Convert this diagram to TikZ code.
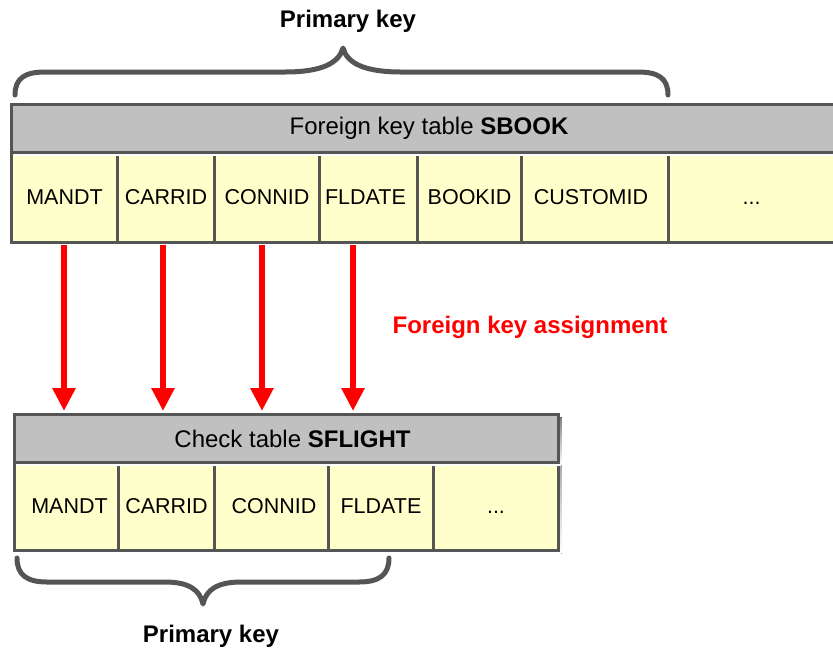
\documentclass[tikz,border=0pt]{standalone}
\usepackage{fontspec}
\setmainfont{Liberation Sans}
\usetikzlibrary{arrows.meta}
\definecolor{edge}{HTML}{555555}
\definecolor{hdr}{HTML}{C0C0C0}
\definecolor{cellc}{HTML}{FFFFCC}
\definecolor{shade}{HTML}{C8C8C8}
\definecolor{fkred}{HTML}{FF0000}
\begin{document}
\begin{tikzpicture}[x=1pt,y=-1pt,
  cellbox/.style={draw=edge, fill=cellc, line width=3pt, anchor=north west, inner sep=0pt,
    font=\fontsize{21.5}{25}\selectfont},
  hdrbox/.style={draw=edge, fill=hdr, line width=3pt, anchor=north west, inner sep=0pt,
    font=\fontsize{24}{28}\selectfont},
  brace/.style={draw=edge, line width=5pt, line cap=round, line join=round},
  keylabel/.style={font=\fontsize{24}{28}\selectfont\bfseries, text=black},
  fkarrow/.style={draw=fkred, line width=6.5pt, -{Triangle[width=22pt,length=23pt]}, fill=fkred}
]
\useasboundingbox (0,0) rectangle (833,649);
\clip (0,0) rectangle (833,649);

% ---------- top table SBOOK ----------
\fill[shade] (14,107) rectangle (850,245.5);
\node[cellbox, minimum width=106pt, minimum height=90pt] (s1) at (10,151) {MANDT};
\node[cellbox, minimum width=97pt,  minimum height=90pt] (s2) at (116,151) {CARRID};
\node[cellbox, minimum width=105pt, minimum height=90pt] (s3) at (213,151) {CONNID};
\node[cellbox, minimum width=98pt,  minimum height=90pt] (s4) at (318,151) {\hspace*{-6pt}FLDATE};
\node[cellbox, minimum width=104pt, minimum height=90pt] (s5) at (416,151) {BOOKID};
\node[cellbox, minimum width=147pt, minimum height=90pt] (s6) at (520,151) {\hspace*{-8pt}CUSTOMID};
\node[cellbox, minimum width=166pt, minimum height=90pt] (s7) at (667,151) {\vphantom{A}...};
\fill[shade] (14,107) rectangle (850,155.5);
\node[hdrbox, minimum width=835pt, minimum height=48pt] (sh) at (10,103) {Foreign key table \textbf{SBOOK}};

% ---------- bottom table SFLIGHT ----------
\fill[shade] (17,417) rectangle (561.5,553.5);
\node[cellbox, minimum width=104pt, minimum height=88pt] (f1) at (13,461) {\hspace*{6pt}MANDT};
\node[cellbox, minimum width=96pt,  minimum height=88pt] (f2) at (117,461) {CARRID};
\node[cellbox, minimum width=114pt, minimum height=88pt] (f3) at (213,461) {\hspace*{5pt}CONNID};
\node[cellbox, minimum width=105pt, minimum height=88pt] (f4) at (327,461) {FLDATE};
\node[cellbox, minimum width=125pt, minimum height=88pt] (f5) at (432,461) {\vphantom{A}...};
\fill[shade] (17,417) rectangle (561.5,465.5);
\node[hdrbox, minimum width=544pt, minimum height=48pt] (fh) at (13,413) {\hspace*{12pt}Check table \textbf{SFLIGHT}};

% ---------- braces ----------
\draw[brace] (15,95) .. controls (15,78) and (25,72) .. (45,72) -- (285,72)
  .. controls (322,72) and (339,63) .. (343,48)
  .. controls (347,63) and (364,72) .. (401,72) -- (638,72)
  .. controls (658,72) and (668,78) .. (668,95);
\draw[brace] (17,558) .. controls (17,575) and (27,582) .. (47,582) -- (165,582)
  .. controls (189,582) and (200,590) .. (203,604)
  .. controls (206,590) and (217,582) .. (241,582) -- (359,582)
  .. controls (379,582) and (389,575) .. (389,558);

% ---------- labels ----------
\node[keylabel] (pk1) at (348,21) {Primary key};
\node[keylabel] (pk2) at (211,636) {Primary key};
\node[font=\fontsize{24}{28}\selectfont\bfseries, text=fkred] (fka) at (530,327) {Foreign key assignment};

% ---------- foreign key arrows ----------
\coordinate (a1) at (64,245);  \coordinate (b1) at (64,411);
\coordinate (a2) at (163,245); \coordinate (b2) at (163,411);
\coordinate (a3) at (262,245); \coordinate (b3) at (262,411);
\coordinate (a4) at (353,245); \coordinate (b4) at (353,411);
\draw[fkarrow] (a1) -- (b1);
\draw[fkarrow] (a2) -- (b2);
\draw[fkarrow] (a3) -- (b3);
\draw[fkarrow] (a4) -- (b4);
\end{tikzpicture}
\end{document}
